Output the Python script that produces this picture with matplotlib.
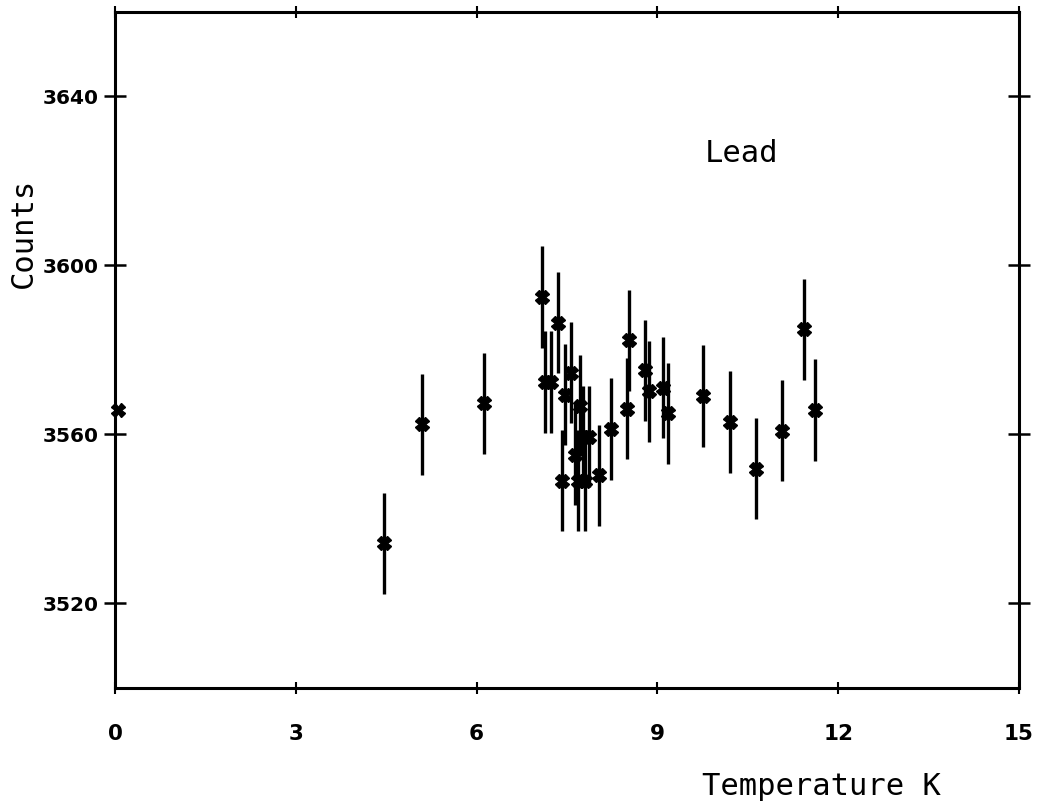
import matplotlib
matplotlib.use("Agg")
import matplotlib.pyplot as plt

# data
temperature = [0.05, 4.46, 5.09, 6.13, 7.09, 7.13, 7.24, 7.35, 7.41, 7.46, 7.56,
               7.63, 7.69, 7.71, 7.76, 7.80, 7.86, 8.03, 8.23, 8.50, 8.53, 8.80,
               8.86, 9.09, 9.18, 9.76, 10.21, 10.63, 11.06, 11.43, 11.61]
counts = [3565.7, 3534.2, 3562.4, 3567.4, 3592.5, 3572.4, 3572.4, 3586.5, 3549.1,
          3569.4, 3574.6, 3555.2, 3549.1, 3566.8, 3559.5, 3549.1, 3559.5, 3550.3,
          3561.3, 3566.1, 3582.3, 3575.2, 3570.2, 3571.1, 3565.0, 3569.1, 3563.0,
          3551.9, 3560.9, 3584.9, 3565.8]
errors = [0, 12, 12, 12, 12, 12, 12, 12, 12, 12, 12, 12, 12, 12, 12, 12, 12, 12,
          12, 12, 12, 12, 12, 12, 12, 12, 12, 12, 12, 12, 12]
x_ticks = [0, 3, 6, 9, 12, 15]
y_ticks = [3520, 3560, 3600, 3640]

mono = 'DejaVu Sans Mono'

fig = plt.figure(figsize=(10.52, 8.11), dpi=100)
ax = fig.add_axes([0.1093, 0.1517, 0.8593, 0.8335])

ax.errorbar(temperature, counts, yerr=errors, fmt='X', color='black',
            ecolor='black', elinewidth=2.4, markersize=10, capsize=0,
            clip_on=False)

ax.set_xlim(0, 15)
ax.set_ylim(3500, 3660)
ax.set_xticks(x_ticks)
ax.set_yticks(y_ticks)
ax.set_xticklabels([str(v) for v in x_ticks], fontweight='bold')
ax.set_yticklabels([str(v) for v in y_ticks], fontweight='bold')

for s in ax.spines.values():
    s.set_linewidth(2.2)

ax.tick_params(axis='x', direction='inout', length=8, width=1.5,
               top=True, bottom=True, pad=22, labelsize=15.5)
ax.tick_params(axis='y', direction='inout', length=16, width=1.8,
               left=True, right=True, pad=4, labelsize=14.5)

ax.text(10.39, 3624.5, "Lead", fontsize=22, family=mono,
        ha='center', va='baseline')

fig.text(0.781, 1 - 795 / 811, "Temperature K", fontsize=22, family=mono,
         ha='center', va='baseline')
fig.text(0.022, 1 - 233 / 811, "Counts", fontsize=22, family=mono,
         ha='center', va='center', rotation=90)

fig.savefig("out.png", dpi=100)
